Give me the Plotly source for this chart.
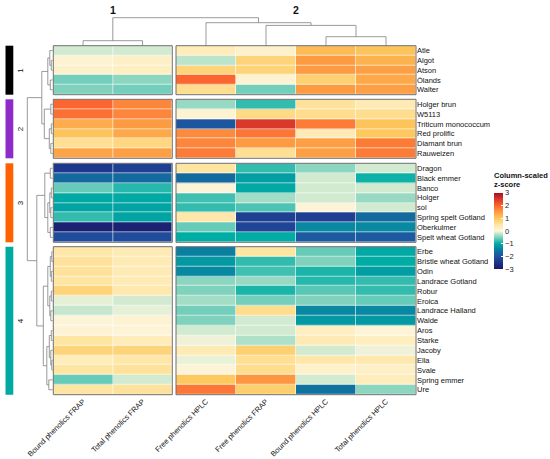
import plotly.graph_objects as go

# ---------------- data ----------------
columns = ["Bound phenolics FRAP", "Total phenolics FRAP", "Free phenolics HPLC",
           "Free phenolics FRAP", "Bound phenolics HPLC", "Total phenolics HPLC"]
col_block1 = columns[:2]
col_block2 = columns[2:]

group1_rows = ["Atle", "Algot", "Atson", "Ölands", "Walter"]
group1_vals = [
    [-0.15, -0.15, 0.30, 0.15, 1.15, 1.05],
    [0.10, 0.20, -0.25, 0.80, 1.50, 1.25],
    [0.15, 0.25, 0.80, 0.80, 1.50, 1.45],
    [-0.55, -0.45, 2.00, 0.10, 0.85, 1.35],
    [-0.50, -0.55, 0.65, -0.55, 1.50, 1.45],
]
group2_rows = ["Holger brun", "W5113", "Triticum monococcum", "Red prolific", "Diamant brun", "Rauweizen"]
group2_vals = [
    [2.00, 1.70, -0.40, -0.80, 0.55, 0.35],
    [1.90, 1.70, 0.10, 0.70, 0.65, 0.65],
    [1.30, 1.50, -1.95, 2.50, 1.80, 1.05],
    [1.05, 1.35, 1.65, 1.85, 0.35, 1.00],
    [0.60, 0.75, 1.70, 1.50, 1.45, 1.80],
    [1.40, 1.45, 1.80, 0.60, 1.45, 1.80],
]
group3_rows = ["Dragon", "Black emmer", "Banco", "Holger", "sol", "Spring spelt Gotland",
               "Oberkulmer", "Spelt wheat Gotland"]
group3_vals = [
    [-2.40, -2.30, 0.50, -0.80, -0.45, -0.15],
    [-1.70, -1.70, -1.70, -1.15, -0.15, -0.95],
    [-0.60, -0.85, 0.05, -1.05, -0.15, -0.15],
    [-1.05, -1.05, -0.75, -0.35, -0.15, -0.40],
    [-1.10, -1.10, -0.80, -0.70, 0.05, -0.15],
    [-0.80, -1.10, 0.45, -2.30, -2.30, -1.70],
    [-2.85, -2.85, -0.60, -2.20, -1.35, -1.35],
    [-2.10, -2.10, -1.00, -1.00, -1.90, -1.90],
]
group4_rows = ["Erbe", "Bristle wheat Gotland", "Odin", "Landrace Gotland", "Robur", "Eroica",
               "Landrace Halland", "Walde", "Aros", "Starke", "Jacoby", "Ella", "Svale",
               "Spring emmer", "Ure"]
group4_vals = [
    [0.45, 0.35, -1.45, 0.50, -0.60, -1.05],
    [0.55, 0.35, -1.20, -0.80, -0.50, -1.00],
    [0.55, 0.35, -1.35, -0.75, -0.90, -1.15],
    [0.50, 0.35, -0.45, -0.40, -0.85, -0.80],
    [0.80, 0.40, -0.50, -0.90, -0.65, -0.80],
    [-0.08, -0.15, -0.35, -0.55, -0.50, -0.60],
    [-0.20, -0.08, -0.55, 0.65, -1.35, -1.35],
    [0.05, 0.10, -0.50, -0.15, -1.20, -1.20],
    [0.08, 0.05, -0.15, -0.15, 0.25, 0.07],
    [0.50, 0.30, -0.05, -0.30, 0.35, 0.25],
    [0.80, 0.80, 0.35, 0.85, -0.15, -0.05],
    [0.30, 0.45, -0.07, 0.60, 0.45, 0.40],
    [0.50, 0.55, 0.05, 0.65, 0.15, 0.20],
    [-0.60, -0.15, 1.00, 1.55, -0.15, 0.30],
    [0.50, 0.55, 1.85, 0.90, -1.60, -0.45],
]
group_labels = ["1", "2", "3", "4"]
group_colors = ["#000000", "#8e2bc9", "#ff6000", "#00aaa2"]
col_group_labels = ["1", "2"]

# dendrograms: [left, right, merge height]
g1_tree = [["Atle", ["Algot", "Atson", 1.5], 3.0], ["Ölands", "Walter", 2.5], 5.0]
g2_tree = [["Holger brun", "W5113", 2.0],
           [["Triticum monococcum", "Red prolific", 1.5], ["Diamant brun", "Rauweizen", 2.0], 3.5], 8.5]
g3_tree = [["Dragon", "Black emmer", 2.5],
           [[["Banco", "Holger", 1.5], ["sol", "Spring spelt Gotland", 2.0], 3.0],
            ["Oberkulmer", "Spelt wheat Gotland", 2.5], 5.0], 8.0]
g4_treeA = [[["Erbe", "Bristle wheat Gotland", 1.0], ["Odin", "Landrace Gotland", 1.5], 2.5],
            [["Robur", "Eroica", 1.5], ["Landrace Halland", "Walde", 2.0], 3.0], 5.0]
g4_treeB = [[["Aros", "Starke", 1.5], ["Jacoby", ["Ella", "Svale", 1.0], 2.0], 3.5],
            ["Spring emmer", "Ure", 4.0], 6.0]
g4_tree = [g4_treeA, g4_treeB, 9.5]
row_tree = [[g1_tree, g2_tree, 11.0], [g3_tree, g4_tree, 16.0], 25.5]
col_tree = [["Bound phenolics FRAP", "Total phenolics FRAP", 5.0],
            ["Free phenolics HPLC", ["Free phenolics FRAP",
                                     ["Bound phenolics HPLC", "Total phenolics HPLC", 9.0], 20.3], 23.0], 28.0]

# ---------------- layout geometry ----------------
W, H = 550, 459
def xd(a, b):
    return [a / W, b / W]
def yd(a, b):
    return [1 - b / H, 1 - a / H]

block_x = [xd(53.3, 172.3), xd(176.0, 416.0)]
group_y = [yd(45.7, 94.7), yd(99.3, 158.3), yd(163.3, 242.3), yd(246.7, 394.7)]

colorscale = [
    [0.0, "#1a1a6a"], [0.5 / 6, "#1e3288"], [1.0 / 6, "#1f52a0"], [1.5 / 6, "#0b7a9f"],
    [2.0 / 6, "#00ada4"], [2.5 / 6, "#80d2bd"], [2.85 / 6, "#d2ebd0"], [3.0 / 6, "#fdf6de"],
    [3.5 / 6, "#fee5a2"], [4.0 / 6, "#fdc95e"], [4.5 / 6, "#fd9b42"], [5.0 / 6, "#fb6630"],
    [5.5 / 6, "#d8392a"], [1.0, "#a50f26"],
]

FONT = "Liberation Sans, Arial, sans-serif"
fig = go.Figure()

groups_rows = [group1_rows, group2_rows, group3_rows, group4_rows]
groups_vals = [group1_vals, group2_vals, group3_vals, group4_vals]
blocks = [(col_block1, 0, 2), (col_block2, 2, 6)]

first = True
for gi, (rows, vals) in enumerate(zip(groups_rows, groups_vals)):
    ya = "y" if gi == 0 else f"y{gi + 1}"
    for bi, (bcols, c0, c1) in enumerate(blocks):
        xa = "x" if bi == 0 else "x2"
        z = [r[c0:c1] for r in vals]
        tr = go.Heatmap(
            z=z, x=bcols, y=rows, xaxis=xa, yaxis=ya,
            zmin=-3, zmax=3, colorscale=colorscale, xgap=0.6, ygap=0.6,
            hoverinfo="skip", showscale=first,
        )
        if first:
            tr.colorbar = dict(
                x=494 / W, xanchor="left", xpad=0, ypad=0,
                y=1 - 169 / H, yanchor="top",
                lenmode="pixels", len=100, thickness=9,
                title=dict(text="<b>Column-scaled<br>z-score</b>", side="top",
                           font=dict(size=7.5, family=FONT, color="#111")),
                tickvals=[-3, -2, -1, 0, 1, 2, 3],
                tickfont=dict(size=7.5, family=FONT, color="#222"),
                ticks="inside", ticklen=2, tickcolor="white", outlinewidth=0,
            )
            first = False
        fig.add_trace(tr)

# ---------------- dendrograms ----------------
def leaf_positions_rows():
    pos = {}
    for rows, (d0, d1) in zip(groups_rows, group_y):
        h = (d1 - d0) / len(rows)
        for i, r in enumerate(rows):
            pos[r] = d1 - (i + 0.5) * h
    return pos

def leaf_positions_cols():
    pos = {}
    for (bcols, _, _), (d0, d1) in zip(blocks, block_x):
        w = (d1 - d0) / len(bcols)
        for i, c in enumerate(bcols):
            pos[c] = d0 + (i + 0.5) * w
    return pos

def walk(node, leafpos, segs):
    if isinstance(node, str):
        return leafpos[node], 0.0
    left, right, h = node
    p1, h1 = walk(left, leafpos, segs)
    p2, h2 = walk(right, leafpos, segs)
    segs.append([(p1, h1), (p1, h), (p2, h), (p2, h2)])
    return (p1 + p2) / 2, h

rsegs = []
walk(row_tree, leaf_positions_rows(), rsegs)
rx, ry = [], []
for s in rsegs:
    for p, h in s:
        rx.append(h); ry.append(p)
    rx.append(None); ry.append(None)
fig.add_trace(go.Scatter(x=rx, y=ry, xaxis="x3", yaxis="y5", mode="lines",
                         line=dict(color="#808080", width=0.8), hoverinfo="skip", showlegend=False))

csegs = []
walk(col_tree, leaf_positions_cols(), csegs)
cx, cy = [], []
for s in csegs:
    for p, h in s:
        cx.append(p); cy.append(h)
    cx.append(None); cy.append(None)
fig.add_trace(go.Scatter(x=cx, y=cy, xaxis="x4", yaxis="y6", mode="lines",
                         line=dict(color="#808080", width=0.8), hoverinfo="skip", showlegend=False))

# ---------------- axes ----------------
tickfont = dict(size=7.5, family=FONT, color="#111")
layout = dict(
    width=W, height=H, margin=dict(l=0, r=0, t=0, b=0, autoexpand=False),
    paper_bgcolor="white", plot_bgcolor="white",
    font=dict(family=FONT, color="#111"),
    showlegend=False,
)
for bi in range(2):
    key = "xaxis" if bi == 0 else "xaxis2"
    layout[key] = dict(domain=block_x[bi], anchor="y4", type="category", tickangle=-45,
                       showgrid=False, zeroline=False, showline=False, ticks="",
                       tickfont=tickfont, fixedrange=True, automargin=False)
for gi in range(4):
    key = "yaxis" if gi == 0 else f"yaxis{gi + 1}"
    layout[key] = dict(domain=group_y[gi], anchor="x2", side="right", type="category",
                       autorange="reversed", showgrid=False, zeroline=False, showline=False,
                       ticks="", tickfont=tickfont, fixedrange=True, automargin=False)
max_rh = 52.8
layout["xaxis3"] = dict(domain=[0, max_rh / W], range=[max_rh, 0], visible=False, anchor="y5",
                        automargin=False, fixedrange=True)
layout["yaxis5"] = dict(domain=[0, 1], range=[0, 1], visible=False, anchor="x3", automargin=False,
                        fixedrange=True)
max_ch = 45.7
layout["xaxis4"] = dict(domain=[0, 1], range=[0, 1], visible=False, anchor="y6", automargin=False,
                        fixedrange=True)
layout["yaxis6"] = dict(domain=[1 - max_ch / H, 1], range=[0, max_ch], visible=False, anchor="x4",
                        automargin=False, fixedrange=True)

shapes = []
annotations = []
for gi in range(4):
    yref = "y domain" if gi == 0 else f"y{gi + 1} domain"
    shapes.append(dict(type="rect", xref="paper", yref=yref, x0=5.5 / W, x1=13.3 / W,
                       y0=0, y1=1, fillcolor=group_colors[gi], line=dict(width=0), layer="above"))
    annotations.append(dict(text=group_labels[gi], xref="paper", yref=yref, x=20.5 / W, y=0.5,
                            showarrow=False, textangle=-90, font=dict(size=8, family=FONT, color="#111"),
                            xanchor="center", yanchor="middle"))
    for bi in range(2):
        xref = "x domain" if bi == 0 else "x2 domain"
        shapes.append(dict(type="rect", xref=xref, yref=yref, x0=0, x1=1, y0=0, y1=1,
                           line=dict(color="#6e6e6e", width=1), fillcolor="rgba(0,0,0,0)", layer="above"))
for bi in range(2):
    xref = "x domain" if bi == 0 else "x2 domain"
    annotations.append(dict(text=f"<b>{col_group_labels[bi]}</b>", xref=xref, yref="paper",
                            x=0.5, y=1 - 10 / H, showarrow=False,
                            font=dict(size=10.5, family=FONT, color="#111"),
                            xanchor="center", yanchor="middle"))
layout["shapes"] = shapes
layout["annotations"] = annotations
fig.update_layout(**layout)

fig.write_html("out.html", config={"displayModeBar": False, "staticPlot": True},
               post_script="document.body.style.margin='0';document.body.style.padding='0';")
